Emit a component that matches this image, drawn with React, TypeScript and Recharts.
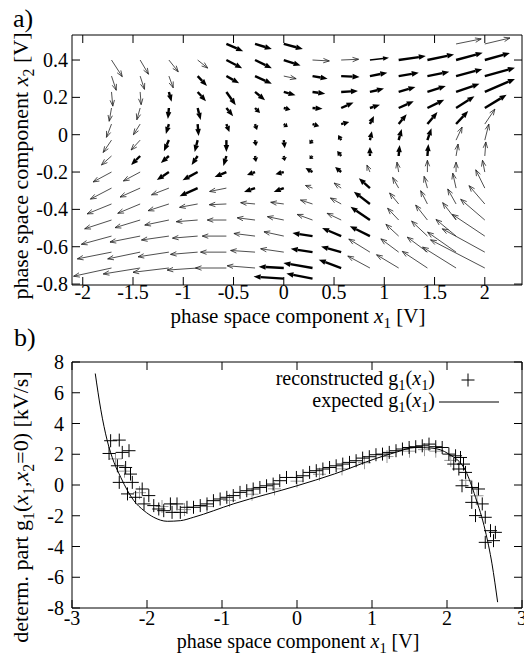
import React from "react";
import { ScatterChart, Scatter, XAxis, YAxis, ReferenceLine } from "recharts";

const FONT = "'Liberation Serif', 'Times New Roman', serif";

// ---- panel a: vector field, tails on a grid ----
const gridX = [-1.714, -1.429, -1.143, -0.857, -0.571, -0.286, 0, 0.286, 0.571, 0.857, 1.143, 1.429, 1.714, 2.0];
const gridY = [0.486, 0.4, 0.314, 0.229, 0.143, 0.057, -0.029, -0.114, -0.2, -0.286, -0.371, -0.457, -0.543, -0.629, -0.714, -0.771];

type Vec = [number, number, number] | null;
const N = null;
// [dx, dy, weight] per grid cell, row by row (top to bottom)
const fieldRows: Vec[][] = [
  [N, N, N, N, [0.167, -0.039, 3], [0.167, -0.027, 3], [0.19, -0.027, 3], N, N, N, N, N, [0.25, 0.027, 1], [0.25, 0.032, 1]],
  [[0.107, -0.089, 1], [0.083, -0.076, 1], [0.093, -0.063, 1], [0.1, -0.043, 1], [0.157, -0.044, 3], [0.167, -0.044, 3], [0.167, -0.03, 3], [0.167, -0.005, 1], [0.173, 0.004, 1], [0.19, 0.012, 2], [0.27, 0.021, 3], [0.265, 0.03, 3], [0.265, 0.039, 3], [0.25, 0.037, 3]],
  [[0.047, -0.076, 1], [0.043, -0.071, 1], [0.043, -0.063, 1], [0.093, -0.053, 3], [0.127, -0.039, 3], [0.167, -0.041, 3], [0.123, -0.014, 1], [0.15, -0.014, 3], [0.183, -0.005, 3], [0.173, 0.018, 3], [0.2, 0.018, 3], [0.217, 0.023, 3], [0.26, 0.037, 3], [0.3, 0.044, 3]],
  [[0.013, -0.076, 1], [0.01, -0.068, 1], [0.027, -0.053, 3], [0.083, -0.05, 3], [0.093, -0.071, 3], [0.1, -0.044, 3], [0.117, -0.018, 3], [0.127, -0.009, 3], [0.167, 0.005, 3], [0.14, 0.018, 3], [0.167, 0.027, 3], [0.183, 0.032, 3], [0.233, 0.044, 3], [0.3, 0.07, 3]],
  [[-0.023, -0.071, 1], [-0.033, -0.063, 1], [-0.01, -0.059, 3], [0.03, -0.064, 3], [0.067, -0.044, 3], [0.05, -0.027, 3], [0.067, -0.009, 3], [0.1, -0.004, 3], [0.123, 0.03, 3], [0.1, 0.018, 3], [0.15, 0.036, 3], [0.167, 0.044, 3], [0.183, 0.063, 3], [0.217, 0.071, 3]],
  [[-0.05, -0.071, 1], [-0.067, -0.057, 1], [-0.03, -0.053, 3], [0.01, -0.064, 3], [0.03, -0.043, 3], [0.02, -0.032, 3], [0.04, -0.016, 3], [0.067, -0.012, 3], [0.08, 0.011, 3], [0.04, 0.043, 3], [0.08, 0.053, 3], [0.1, 0.064, 3], [0.12, 0.07, 3], [0.1, 0.08, 1]],
  [[-0.083, -0.066, 1], [-0.09, -0.053, 1], [-0.05, -0.059, 3], [-0.03, -0.064, 3], [0, -0.064, 3], [0.01, -0.032, 3], [0.01, -0.043, 3], [-0.03, -0.021, 3], [-0.03, 0.027, 3], [0.02, 0.048, 3], [0.03, 0.059, 3], [0.04, 0.064, 3], [0.06, 0.07, 1], [0.04, 0.086, 1]],
  [[-0.1, -0.048, 1], [-0.09, -0.048, 3], [-0.08, -0.037, 3], [-0.06, -0.048, 3], [-0.03, -0.053, 3], [0.01, -0.032, 3], [0.01, -0.027, 3], [-0.03, -0.016, 3], [-0.04, 0.027, 3], [0, 0.048, 3], [0.01, 0.059, 3], [0.01, 0.064, 3], [0.02, 0.064, 1], [0.01, 0.075, 1]],
  [[-0.183, -0.053, 1], [-0.167, -0.048, 1], [-0.12, -0.043, 3], [-0.15, -0.044, 3], [-0.117, -0.027, 3], [-0.08, -0.016, 3], [-0.083, -0.012, 3], [-0.07, 0.021, 3], [-0.06, 0.027, 3], [-0.03, 0.037, 1], [-0.017, 0.053, 1], [0, 0.063, 1], [0, 0.053, 1], [-0.023, 0.063, 1]],
  [[-0.21, -0.059, 1], [-0.2, -0.048, 1], [-0.173, -0.036, 1], [-0.18, -0.043, 3], [-0.167, -0.018, 1], [-0.11, -0.021, 3], [-0.1, -0.021, 3], [-0.07, 0.014, 1], [-0.07, 0.027, 1], [-0.11, 0.053, 3], [-0.06, 0.057, 1], [-0.033, 0.063, 1], [-0.033, 0.08, 1], [-0.09, 0.098, 1]],
  [[-0.243, -0.053, 1], [-0.223, -0.05, 1], [-0.207, -0.036, 1], [-0.18, -0.018, 1], [-0.17, -0.004, 1], [-0.143, 0.007, 1], [-0.13, 0.009, 1], [-0.12, 0.021, 1], [-0.107, 0.032, 1], [-0.16, 0.066, 3], [-0.09, 0.059, 1], [-0.067, 0.071, 1], [-0.083, 0.08, 1], [-0.157, 0.098, 1]],
  [[-0.267, -0.047, 1], [-0.25, -0.041, 1], [-0.24, -0.027, 1], [-0.213, -0.009, 1], [-0.19, 0, 1], [-0.177, 0.012, 1], [-0.163, 0.018, 1], [-0.153, 0.03, 1], [-0.14, 0.036, 1], [-0.193, 0.071, 3], [-0.11, 0.063, 1], [-0.117, 0.08, 1], [-0.133, 0.093, 1], [-0.24, 0.111, 1]],
  [[-0.3, -0.044, 1], [-0.3, -0.032, 1], [-0.273, -0.021, 1], [-0.25, -0.011, 1], [-0.24, 0, 1], [-0.21, 0.014, 1], [-0.197, 0.023, 1], [-0.2, 0.016, 3], [-0.19, 0.043, 3], [-0.2, 0.053, 3], [-0.127, 0.063, 1], [-0.157, 0.08, 1], [-0.2, 0.089, 1], [-0.323, 0.116, 1]],
  [[-0.34, -0.036, 1], [-0.323, -0.036, 1], [-0.307, -0.025, 1], [-0.27, -0.012, 1], [-0.257, 0, 1], [-0.243, 0.009, 1], [-0.23, 0.018, 1], [-0.217, 0.018, 3], [-0.2, 0.03, 3], [-0.21, 0.07, 1], [-0.177, 0.071, 1], [-0.2, 0.08, 1], [-0.283, 0.107, 1], [-0.423, 0.125, 1]],
  [[-0.377, -0.044, 1], [-0.367, -0.032, 1], [-0.357, -0.023, 1], [-0.303, -0.011, 1], [-0.307, 0, 1], [-0.277, 0.012, 1], [-0.25, 0.007, 3], [-0.29, 0.027, 3], [-0.223, 0.044, 3], [-0.22, 0.064, 1], [-0.22, 0.071, 1], [-0.25, 0.089, 1], [-0.333, 0.112, 1], [-0.54, 0.151, 1]],
  [N, N, N, N, N, N, [-0.3, 0.011, 3], [-0.26, 0.027, 3], N, N, N, N, N, N],
];

const ticksAX = [-2, -1.5, -1, -0.5, 0, 0.5, 1, 1.5, 2];
const ticksAY = [-0.8, -0.6, -0.4, -0.2, 0, 0.2, 0.4];

// ---- panel b ----
const curveX = [-2.69, -2.617, -2.53, -2.44, -2.35, -2.26, -2.175, -2.04, -1.91, -1.73, -1.555, -1.38, -0.85, 0, 0.5, 1.05, 1.3, 1.58, 1.8, 2.025, 2.247, 2.38, 2.51, 2.6, 2.675];
const curveY = [7.25, 4.93, 2.88, 1.47, 0.5, -0.37, -1.02, -1.67, -2.1, -2.36, -2.32, -2.1, -1.23, -0.05, 0.72, 1.72, 2.1, 2.44, 2.4, 2.01, 0.93, -0.8, -2.97, -5.13, -7.62];

const recX = [-2.485, -2.37, -2.506, -2.33, -2.24, -2.395, -2.285, -2.37, -2.22, -2.196, -2.26, -2.064, -2.152, -1.976, -2.04, -1.91, -1.843, -1.777, -1.688, -1.6, -1.666, -1.556, -1.467, -1.38, -1.29, -1.2, -1.114, -1.025, -0.936, -0.85, -0.76, -0.67, -0.584, -0.495, -0.406, -0.318, -0.23, -0.14, -0.008, 0.08, 0.168, 0.257, 0.345, 0.434, 0.522, 0.61, 0.7, 0.788, 0.875, 0.964, 1.053, 1.14, 1.23, 1.32, 1.406, 1.495, 1.583, 1.67, 1.76, 1.85, 1.936, 2.025, 2.114, 2.18, 2.09, 2.22, 2.158, 2.247, 2.2, 2.33, 2.42, 2.33, 2.47, 2.38, 2.51, 2.58, 2.645, 2.51, 2.62];
const recY = [2.88, 2.92, 2.05, 2.12, 2.23, 1.25, 1.14, 0.17, 0.71, 0.17, -0.58, -0.26, -0.8, -0.69, -1.23, -1.34, -1.56, -1.67, -1.23, -1.23, -1.78, -1.78, -1.45, -1.45, -1.34, -1.23, -1.02, -0.91, -0.8, -0.69, -0.48, -0.37, -0.26, -0.16, -0.05, 0.06, 0.28, 0.49, 0.49, 0.6, 0.82, 0.93, 1.04, 1.14, 1.25, 1.36, 1.47, 1.58, 1.75, 1.84, 1.97, 2.01, 2.12, 2.23, 2.34, 2.44, 2.49, 2.55, 2.66, 2.49, 2.44, 2.01, 1.9, 1.79, 1.36, 1.36, 1.04, 0.82, -0.05, -0.16, -0.26, -1.13, -1.23, -1.99, -2.1, -2.97, -3.08, -3.73, -3.62];
const grayX = [-2.42, -2.3, -2.1, -1.8, -1.5, -1.2, -0.9, -0.6, -0.3, 0.0, 0.3, 0.6, 0.9, 1.2, 1.5, 1.7, 1.85, 2.05, 2.25, 2.4];
const grayY = [1.7, 0.9, -0.5, -1.4, -1.6, -1.4, -1.0, -0.6, -0.25, 0.25, 0.7, 1.05, 1.45, 1.85, 2.2, 2.3, 2.2, 1.6, 0.3, -0.7];

const ticksBX = [-3, -2, -1, 0, 1, 2, 3];
const ticksBY = [-8, -6, -4, -2, 0, 2, 4, 6, 8];

const TICK = 8;
const tickFont = { fontFamily: FONT, fontSize: 20, fill: "#000" };

const bottomTick = (dy: number) => ({ x, y, payload }: any) => (
  <g>
    <line x1={x} y1={y} x2={x} y2={y - TICK} stroke="#000" />
    <text x={x} y={y + dy} textAnchor="middle" {...tickFont}>{payload.value}</text>
  </g>
);
const leftTick = (gap: number) => ({ x, y, payload }: any) => (
  <g>
    <line x1={x} y1={y} x2={x + TICK} y2={y} stroke="#000" />
    <text x={x - gap} y={y + 7} textAnchor="end" {...tickFont}>{payload.value}</text>
  </g>
);
const topTick = ({ x, y }: any) => <line x1={x} y1={y} x2={x} y2={y + TICK} stroke="#000" />;
const rightTick = ({ x, y }: any) => <line x1={x} y1={y} x2={x - TICK} y2={y} stroke="#000" />;

const Arrow = ({ x1, y1, x2, y2, w }: any) => {
  const ddx = x2 - x1;
  const ddy = y2 - y1;
  const len = Math.hypot(ddx, ddy) || 1;
  const ux = ddx / len;
  const uy = ddy / len;
  const sw = w === 3 ? 2.4 : w === 2 ? 1.5 : 0.8;
  const hl = Math.min(w === 3 ? 7 : 6, len * 0.7);
  const hw = w === 3 ? 2.8 : 2.2;
  const bx = x2 - ux * hl;
  const by = y2 - uy * hl;
  const p1 = `${bx - uy * hw},${by + ux * hw}`;
  const p2 = `${bx + uy * hw},${by - ux * hw}`;
  const col = w === 1 ? "#222" : "#000";
  if (w === 1) {
    return (
      <g>
        <line x1={x1} y1={y1} x2={x2} y2={y2} stroke={col} strokeWidth={sw} />
        <polyline points={`${p1} ${x2},${y2} ${p2}`} fill="none" stroke={col} strokeWidth={sw} />
      </g>
    );
  }
  return (
    <g>
      <line x1={x1} y1={y1} x2={bx} y2={by} stroke={col} strokeWidth={sw} />
      <polygon points={`${p1} ${x2},${y2} ${p2}`} fill={col} />
    </g>
  );
};

const Plus = ({ cx, cy, stroke }: any) => (
  <path d={`M${cx - 6.5},${cy}h13M${cx},${cy - 6.5}v13`} stroke={stroke} strokeWidth={1} fill="none" />
);
const NoDot = () => <g />;

const arrows = fieldRows.flatMap((row, r) =>
  row.map((v, c) => (v ? { x: gridX[c], y: gridY[r], dx: v[0], dy: v[1], w: v[2] } : null)).filter(Boolean)
) as { x: number; y: number; dx: number; dy: number; w: number }[];

const curve = curveX.map((x, i) => ({ x, y: curveY[i] }));
const recon = recX.map((x, i) => ({ x, y: recY[i] }));
const recon2 = grayX.map((x, i) => ({ x, y: grayY[i] }));

// rich text: [text, "i" italic | "s" subscript | ""]
type Part = [string, string];
const rich = (parts: Part[], size: number) => {
  let shift = 0;
  return parts.map(([t, k], i) => {
    const target = k === "s" ? size * 0.25 : 0;
    const dy = target - shift;
    shift = target;
    return (
      <tspan key={i} dy={dy || undefined} fontStyle={k === "i" ? "italic" : undefined}
        fontSize={k === "s" ? size * 0.72 : size}>{t}</tspan>
    );
  });
};

const titleX1: Part[] = [["phase space component ", ""], ["x", "i"], ["1", "s"], [" [V]", ""]];
const titleX2: Part[] = [["phase space component ", ""], ["x", "i"], ["2", "s"], [" [V]", ""]];
const titleG: Part[] = [["determ. part g", ""], ["1", "s"], ["(", ""], ["x", "i"], ["1", "s"], [",", ""], ["x", "i"], ["2", "s"], ["=0) [kV/s]", ""]];
const legRec: Part[] = [["reconstructed g", ""], ["1", "s"], ["(", ""], ["x", "i"], ["1", "s"], [")", ""]];
const legExp: Part[] = [["expected g", ""], ["1", "s"], ["(", ""], ["x", "i"], ["1", "s"], [")", ""]];

export default function App() {
  const axisLine = { stroke: "#000", strokeWidth: 1 };
  return (
    <div style={{ position: "absolute", left: 0, top: 0, width: 524, height: 656, background: "#fff" }}>
      <div style={{ position: "absolute", left: 0, top: 0 }}>
        <ScatterChart width={524} height={330} margin={{ top: 34, right: 1, bottom: 44, left: 71 }}>
          <XAxis type="number" dataKey="x" domain={[-2.107, 2.37]} allowDataOverflow ticks={ticksAX} interval={0}
            height={1} tickSize={0} tickMargin={0} tickLine={false} axisLine={axisLine} tick={bottomTick(14)} />
          <XAxis xAxisId="t" orientation="top" type="number" dataKey="x" domain={[-2.107, 2.37]} allowDataOverflow ticks={ticksAX}
            interval={0} height={1} tickSize={0} tickMargin={0} tickLine={false} axisLine={axisLine} tick={topTick} />
          <YAxis type="number" dataKey="y" domain={[-0.805, 0.534]} allowDataOverflow ticks={ticksAY} interval={0}
            width={1} tickSize={0} tickMargin={0} tickLine={false} axisLine={axisLine} tick={leftTick(4)} />
          <YAxis yAxisId="r" orientation="right" type="number" dataKey="y" domain={[-0.805, 0.534]} allowDataOverflow ticks={ticksAY}
            interval={0} width={1} tickSize={0} tickMargin={0} tickLine={false} axisLine={axisLine} tick={rightTick} />
          <Scatter data={arrows} shape={NoDot} isAnimationActive={false} />
          {arrows.map((a, i) => (
            <ReferenceLine
              key={i}
              ifOverflow="visible"
              segment={[{ x: a.x, y: a.y }, { x: a.x + a.dx, y: a.y + a.dy }]}
              shape={(p: any) => <Arrow {...p} w={a.w} />}
            />
          ))}
        </ScatterChart>
      </div>

      <div style={{ position: "absolute", left: 0, top: 330 }}>
        <ScatterChart width={524} height={326} margin={{ top: 31, right: 1, bottom: 47, left: 71 }}>
          <XAxis type="number" dataKey="x" domain={[-3, 3]} allowDataOverflow ticks={ticksBX} interval={0}
            height={1} tickSize={0} tickMargin={0} tickLine={false} axisLine={axisLine} tick={bottomTick(17)} />
          <XAxis xAxisId="t" orientation="top" type="number" dataKey="x" domain={[-3, 3]} allowDataOverflow ticks={ticksBX}
            interval={0} height={1} tickSize={0} tickMargin={0} tickLine={false} axisLine={axisLine} tick={topTick} />
          <YAxis type="number" dataKey="y" domain={[-8, 8]} allowDataOverflow ticks={ticksBY} interval={0}
            width={1} tickSize={0} tickMargin={0} tickLine={false} axisLine={axisLine} tick={leftTick(8)} />
          <YAxis yAxisId="r" orientation="right" type="number" dataKey="y" domain={[-8, 8]} allowDataOverflow ticks={ticksBY}
            interval={0} width={1} tickSize={0} tickMargin={0} tickLine={false} axisLine={axisLine} tick={rightTick} />
          <Scatter data={recon2} shape={(p: any) => <Plus {...p} stroke="#999" />} isAnimationActive={false} />
          <Scatter data={recon} shape={(p: any) => <Plus {...p} stroke="#000" />} isAnimationActive={false} />
          <Scatter data={curve} shape={NoDot} line={{ stroke: "#000", strokeWidth: 1 }} lineJointType="monotoneX"
            isAnimationActive={false} />
        </ScatterChart>
      </div>

      <svg width={524} height={656} style={{ position: "absolute", left: 0, top: 0, pointerEvents: "none" }}
        fontFamily={FONT} fill="#000">
        <text x={13} y={27} fontSize={26}>a)</text>
        <text x={298} y={323} fontSize={21} textAnchor="middle">{rich(titleX1, 21)}</text>
        <text transform="translate(28,166) rotate(-90)" fontSize={22} textAnchor="middle">{rich(titleX2, 22)}</text>

        <text x={14} y={346} fontSize={26}>b)</text>
        <text x={298} y={647.5} fontSize={20} textAnchor="middle">{rich(titleX1, 20)}</text>
        <text transform="translate(28,507) rotate(-90)" fontSize={22} textAnchor="middle">{rich(titleG, 22)}</text>

        <text x={435} y={385} fontSize={20} textAnchor="end">{rich(legRec, 20)}</text>
        <text x={435} y={407} fontSize={20} textAnchor="end">{rich(legExp, 20)}</text>
        <path d="M461.5,380h13M468,373.5v13" stroke="#000" strokeWidth={1} fill="none" />
        <line x1={439} y1={402} x2={499} y2={402} stroke="#000" strokeWidth={1} />
      </svg>
    </div>
  );
}
